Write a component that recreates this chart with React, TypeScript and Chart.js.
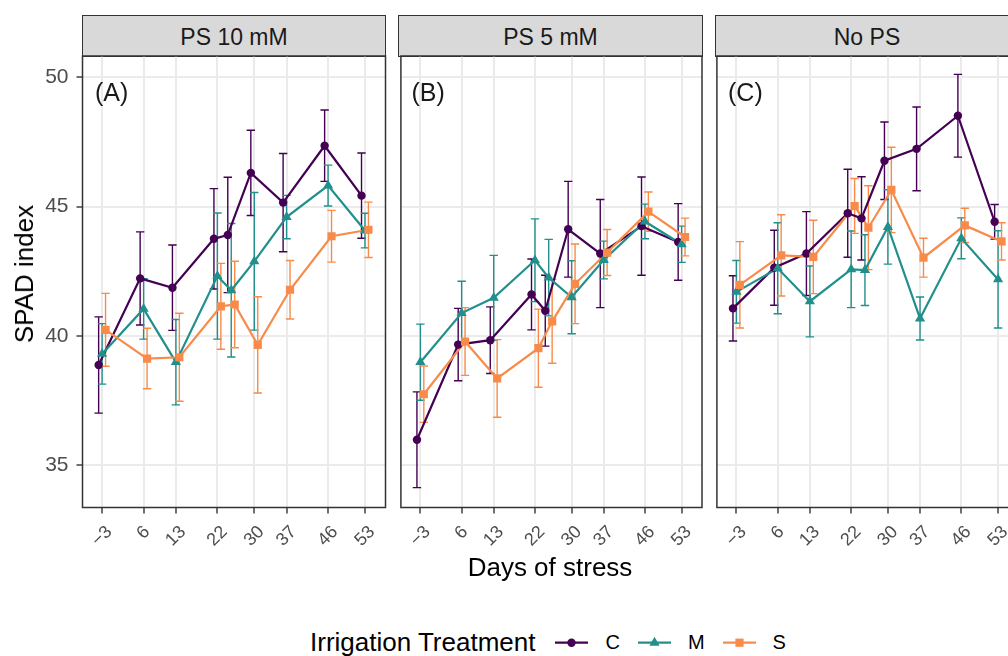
import React, { useEffect, useRef } from 'react';
import { Chart, registerables } from 'chart.js';

Chart.register(...registerables);

// Sampling days; the last visit (day 54) carries the axis label "53"
const days = [-3, 6, 13, 22, 25, 30, 37, 46, 54];
const xTickValues = [-3, 6, 13, 22, 30, 37, 46, 54];
const xTickLabels = ['−3', '6', '13', '22', '30', '37', '46', '53'];
const yTickValues = [35, 40, 45, 50];

const treatments = ['C', 'M', 'S'];
const panelTitles = ['PS 10 mM', 'PS 5 mM', 'No PS'];
const panelTags = ['(A)', '(B)', '(C)'];

// PS 10 mM — mean SPAD and standard error per treatment
const ps10C = [38.87, 42.22, 41.86, 43.75, 43.9, 46.3, 45.15, 47.35, 45.42];
const ps10CSe = [1.86, 1.8, 1.65, 1.94, 2.23, 1.65, 1.9, 1.38, 1.65];
const ps10M = [39.3, 41.04, 38.98, 42.31, 41.76, 42.88, 44.59, 45.81, 44.07];
const ps10MSe = [1.17, 1.17, 1.65, 2.44, 2.58, 2.66, 0.84, 0.79, 0.67];
const ps10S = [40.23, 39.12, 39.17, 41.14, 41.21, 39.65, 41.78, 43.85, 44.1];
const ps10SSe = [1.41, 1.17, 1.7, 1.66, 1.67, 1.86, 1.13, 1.0, 1.07];

// PS 5 mM
const ps5C = [35.98, 39.66, 39.83, 41.6, 40.97, 44.12, 43.18, 44.24, 43.63];
const ps5CSe = [1.85, 1.4, 1.29, 1.37, 1.37, 1.85, 2.09, 1.9, 1.48];
const ps5M = [38.98, 40.88, 41.47, 42.92, 42.25, 41.49, 42.93, 44.42, 43.54];
const ps5MSe = [1.47, 1.23, 1.64, 1.6, 1.48, 1.41, 0.73, 0.67, 0.7];
const ps5S = [37.74, 39.78, 38.35, 39.52, 40.56, 42.01, 43.22, 44.8, 43.82];
const ps5SSe = [1.09, 1.31, 1.5, 1.51, 1.62, 1.54, 0.89, 0.76, 0.73];

// No PS
const noPsC = [41.06, 42.63, 43.18, 44.74, 44.54, 46.77, 47.23, 48.51, 44.41];
const noPsCSe = [1.26, 1.45, 1.62, 1.7, 1.61, 1.5, 1.62, 1.6, 0.67];
const noPsM = [41.7, 42.61, 41.33, 42.57, 42.54, 44.21, 40.67, 43.77, 42.18];
const noPsMSe = [1.21, 1.76, 1.37, 1.48, 1.37, 1.44, 0.83, 0.79, 1.88];
const noPsS = [41.97, 43.11, 43.05, 45.02, 44.18, 45.64, 43.02, 44.27, 43.65];
const noPsSSe = [1.67, 1.57, 1.42, 1.06, 1.62, 1.65, 0.75, 0.66, 0.72];

const panelMeans = [
  [ps10C, ps10M, ps10S],
  [ps5C, ps5M, ps5S],
  [noPsC, noPsM, noPsS],
];
const panelErrors = [
  [ps10CSe, ps10MSe, ps10SSe],
  [ps5CSe, ps5MSe, ps5SSe],
  [noPsCSe, noPsMSe, noPsSSe],
];

// Appearance
const FONT = '"Liberation Sans", Arial, Helvetica, sans-serif';
const seriesColors = ['#440154', '#21908C', '#F98B4A'];
const pointStyles = ['circle', 'triangle', 'rect'];
const pointRadii = [4.2, 5.9, 5.8];
const dodge = [-0.75, 0, 0.75];

// Layout (px)
const PANEL_LEFT = [82.5, 399, 715.5];
const PANEL_W = 303;
const PLOT_TOP = 56;
const PLOT_BOTTOM = 507.5;
const STRIP_TOP = 15;
const CANVAS_TOP = 40;
const CANVAS_BOTTOM = 560;
const X_MIN = -7.25;
const X_MAX = 58.45;
const Y_MIN = 33.36;
const Y_MAX = 50.82;

const errorBarPlugin = {
  id: 'errorBars',
  beforeDatasetsDraw(chart: any) {
    const { ctx } = chart;
    const yScale = chart.scales.y;
    chart.data.datasets.forEach((ds: any, i: number) => {
      if (!ds.errors) return;
      const meta = chart.getDatasetMeta(i);
      ctx.save();
      ctx.strokeStyle = ds.pointBackgroundColor;
      ctx.lineWidth = 1.4;
      meta.data.forEach((pt: any, j: number) => {
        const v = ds.data[j].y;
        const e = ds.errors[j];
        const top = yScale.getPixelForValue(v + e);
        const bot = yScale.getPixelForValue(v - e);
        ctx.beginPath();
        ctx.moveTo(pt.x, top);
        ctx.lineTo(pt.x, bot);
        ctx.moveTo(pt.x - 4.2, top);
        ctx.lineTo(pt.x + 4.2, top);
        ctx.moveTo(pt.x - 4.2, bot);
        ctx.lineTo(pt.x + 4.2, bot);
        ctx.stroke();
      });
      ctx.restore();
    });
  },
};

const rotatedXLabelPlugin = {
  id: 'rotatedXLabels',
  afterDraw(chart: any) {
    const { ctx, chartArea } = chart;
    const xScale = chart.scales.x;
    const size = 18;
    ctx.save();
    ctx.font = `${size}px ${FONT}`;
    ctx.fillStyle = '#4D4D4D';
    ctx.textAlign = 'center';
    ctx.textBaseline = 'middle';
    const capH = size * 0.716;
    xTickValues.forEach((v, i) => {
      const label = xTickLabels[i];
      const w = ctx.measureText(label).width;
      const box = (w + capH) * Math.SQRT1_2;
      const px = xScale.getPixelForValue(v);
      const py = chartArea.bottom + 17 + box / 2;
      ctx.save();
      ctx.translate(px, py);
      ctx.rotate(-Math.PI / 4);
      ctx.fillText(label, 0, 0);
      ctx.restore();
    });
    ctx.restore();
  },
};

const panelBorderPlugin = {
  id: 'panelBorder',
  afterDraw(chart: any) {
    const { ctx, chartArea } = chart;
    ctx.save();
    ctx.strokeStyle = '#333333';
    ctx.lineWidth = 1.5;
    ctx.strokeRect(
      chartArea.left,
      chartArea.top,
      chartArea.right - chartArea.left,
      chartArea.bottom - chartArea.top
    );
    ctx.restore();
  },
};

function panelGeometry(index: number) {
  const yAxisW = index === 0 ? PANEL_LEFT[0] : 0;
  const canvasLeft = index === 0 ? 0 : Math.floor(PANEL_LEFT[index] - 4);
  const padLeft = PANEL_LEFT[index] - yAxisW - canvasLeft;
  const padTop = PLOT_TOP - CANVAS_TOP;
  const width = Math.ceil(padLeft + yAxisW + PANEL_W + 6);
  const height = CANVAS_BOTTOM - CANVAS_TOP;
  const xAxisH = height - padTop - (PLOT_BOTTOM - PLOT_TOP);
  return {
    yAxisW,
    canvasLeft,
    padLeft,
    padTop,
    padRight: width - (padLeft + yAxisW + PANEL_W),
    width,
    height,
    xAxisH,
  };
}

function Panel({ index }: { index: number }) {
  const ref = useRef<HTMLCanvasElement>(null);
  const g = panelGeometry(index);

  useEffect(() => {
    if (!ref.current) return;
    const means = panelMeans[index];
    const errs = panelErrors[index];
    const datasets: any[] = [];
    treatments.forEach((t, k) => {
      const pts = days.map((d, j) => ({ x: d + dodge[k], y: means[k][j] }));
      datasets.push({
        label: t + ' line',
        data: pts,
        borderColor: seriesColors[k],
        borderWidth: 2.2,
        pointRadius: 0,
        showLine: true,
        fill: false,
        tension: 0,
        order: 12 - k,
      });
      datasets.push({
        label: t,
        data: pts,
        errors: errs[k],
        showLine: false,
        pointStyle: pointStyles[k],
        pointRadius: pointRadii[k],
        pointBackgroundColor: seriesColors[k],
        pointBorderColor: seriesColors[k],
        pointBorderWidth: 0,
        order: 2 - k,
      });
    });

    const showY = index === 0;
    const chart = new Chart(ref.current, {
      type: 'line',
      data: { datasets },
      plugins: [errorBarPlugin, panelBorderPlugin, rotatedXLabelPlugin],
      options: {
        responsive: false,
        animation: false,
        layout: {
          padding: { left: g.padLeft, right: g.padRight, top: g.padTop, bottom: 0 },
        },
        plugins: {
          legend: { display: false },
          tooltip: { enabled: false },
        },
        scales: {
          x: {
            type: 'linear',
            min: X_MIN,
            max: X_MAX,
            afterBuildTicks: (s: any) => {
              s.ticks = xTickValues.map((value) => ({ value }));
            },
            afterFit: (s: any) => {
              s.height = g.xAxisH;
              s.paddingLeft = 0;
              s.paddingRight = 0;
            },
            ticks: { display: false },
            grid: {
              color: '#EBEBEB',
              lineWidth: 2,
              drawTicks: true,
              tickLength: 6,
              tickColor: '#333333',
              tickWidth: 1.4,
            },
            border: { display: false },
          },
          y: {
            type: 'linear',
            min: Y_MIN,
            max: Y_MAX,
            afterBuildTicks: (s: any) => {
              s.ticks = yTickValues.map((value) => ({ value }));
            },
            afterFit: (s: any) => {
              s.width = g.yAxisW;
              s.paddingTop = 0;
              s.paddingBottom = 0;
            },
            ticks: {
              display: showY,
              padding: 8,
              color: '#4D4D4D',
              font: { family: FONT, size: 21 },
            },
            grid: {
              color: '#EBEBEB',
              lineWidth: 2,
              drawTicks: showY,
              tickLength: 6,
              tickColor: '#333333',
              tickWidth: 1.4,
            },
            border: { display: false },
          },
        },
      } as any,
    });
    return () => chart.destroy();
  }, [index]);

  return (
    <canvas
      ref={ref}
      width={g.width}
      height={g.height}
      style={{
        position: 'absolute',
        left: g.canvasLeft,
        top: CANVAS_TOP,
        width: g.width,
        height: g.height,
      }}
    />
  );
}

function LegendKey({ k }: { k: number }) {
  const c = seriesColors[k];
  const cx = 16.5;
  const cy = 13.7;
  let marker: React.ReactNode;
  if (pointStyles[k] === 'circle') {
    marker = <circle cx={cx} cy={cy} r={4.2} fill={c} />;
  } else if (pointStyles[k] === 'triangle') {
    const r = 5.9;
    const pts = [
      [cx, cy - r],
      [cx + r * 0.866, cy + r * 0.5],
      [cx - r * 0.866, cy + r * 0.5],
    ]
      .map((p) => p.join(','))
      .join(' ');
    marker = <polygon points={pts} fill={c} />;
  } else {
    marker = <rect x={cx - 4.1} y={cy - 4.1} width={8.2} height={8.2} fill={c} />;
  }
  return (
    <svg width={33} height={26} style={{ display: 'block' }}>
      <line x1={0} x2={33} y1={cy} y2={cy} stroke={c} strokeWidth={2.2} />
      {marker}
    </svg>
  );
}

export default function App() {
  return (
    <div
      style={{
        position: 'fixed',
        left: 0,
        top: 0,
        width: 1008,
        height: 656,
        overflow: 'hidden',
        background: '#FFFFFF',
        fontFamily: FONT,
        color: '#000000',
      }}
    >
      {panelTitles.map((title, i) => (
        <div
          key={'strip' + i}
          style={{
            position: 'absolute',
            left: PANEL_LEFT[i] - 0.75,
            top: STRIP_TOP,
            width: PANEL_W + 1.5,
            height: PLOT_TOP - STRIP_TOP + 0.75,
            boxSizing: 'border-box',
            background: '#D9D9D9',
            border: '1.5px solid #333333',
            display: 'flex',
            alignItems: 'center',
            justifyContent: 'center',
            paddingTop: 3,
            fontSize: 23,
            color: '#1A1A1A',
            whiteSpace: 'nowrap',
          }}
        >
          {title}
        </div>
      ))}

      {panelTitles.map((_, i) => (
        <Panel key={'panel' + i} index={i} />
      ))}

      {panelTags.map((tag, i) => (
        <div
          key={'tag' + i}
          style={{
            position: 'absolute',
            left: PANEL_LEFT[i] + 12.5,
            top: 80.2,
            fontSize: 25,
            lineHeight: '25px',
            color: '#1A1A1A',
            whiteSpace: 'nowrap',
          }}
        >
          {tag}
        </div>
      ))}

      <div
        style={{
          position: 'absolute',
          left: 24,
          top: 273.5,
          transform: 'translate(-50%, -50%) rotate(-90deg)',
          fontSize: 26,
          lineHeight: '26px',
          whiteSpace: 'nowrap',
        }}
      >
        SPAD index
      </div>

      <div
        style={{
          position: 'absolute',
          left: 550,
          top: 554,
          transform: 'translateX(-50%)',
          fontSize: 26,
          lineHeight: '26px',
          whiteSpace: 'nowrap',
        }}
      >
        Days of stress
      </div>

      <div
        style={{
          position: 'absolute',
          left: 310,
          top: 629,
          height: 26,
          display: 'flex',
          alignItems: 'center',
          whiteSpace: 'nowrap',
        }}
      >
        <span style={{ fontSize: 26, lineHeight: '26px', marginRight: 20 }}>
          Irrigation Treatment
        </span>
        {treatments.map((t, k) => (
          <React.Fragment key={t}>
            <LegendKey k={k} />
            <span style={{ fontSize: 20, lineHeight: '26px', marginLeft: 17, marginRight: 18 }}>
              {t}
            </span>
          </React.Fragment>
        ))}
      </div>
    </div>
  );
}
